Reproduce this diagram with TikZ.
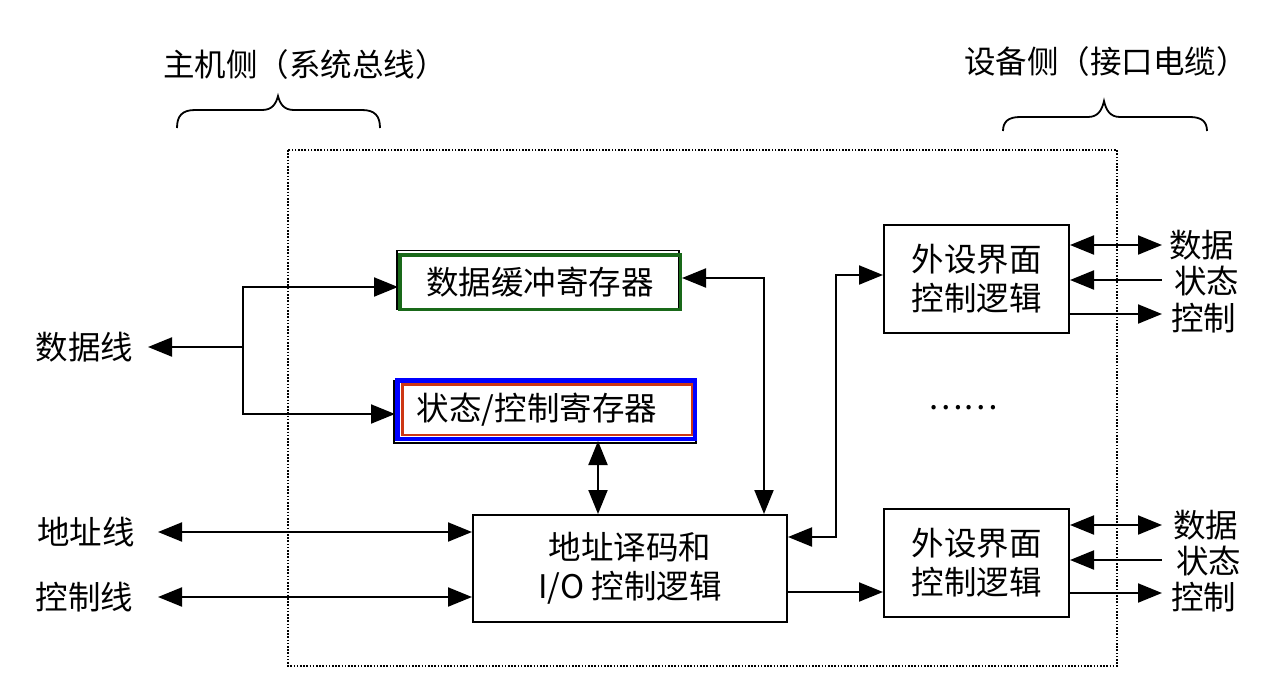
\documentclass[tikz,border=0pt]{standalone}
\usepackage{fontspec}
\setmainfont{Noto Sans CJK SC}
\usetikzlibrary{arrows.meta,calc}
\definecolor{bufgreen}{RGB}{25,105,25}
\definecolor{statblue}{RGB}{0,0,255}
\definecolor{statred}{RGB}{205,55,20}
\begin{document}
\begin{tikzpicture}[x=1pt,y=-1pt,
  font=\fontsize{32.5}{39}\selectfont,
  line width=2pt,
  >={Triangle[length=24pt,width=19pt]},
  box/.style={draw,line width=2pt,inner sep=0pt,align=center},
  lbl/.style={inner sep=0pt},
  brace/.style={line width=1.8pt},
  frame/.style={line width=1.6pt,dash pattern=on 1.6pt off 1.6pt}]
\useasboundingbox (0,0) rectangle (1286,689);

% dotted frame
\draw[frame] (288,150) rectangle (1117,666);

% top labels and braces
\node[lbl,font=\fontsize{31.5}{39}\selectfont] (host) at (305,65) {主机侧（系统总线）};
\node[lbl,font=\fontsize{31.5}{39}\selectfont] (dev) at (1106,62) {设备侧（接口电缆）};
\draw[brace] (177,128) .. controls (177,116) and (182,110) .. (195,110) -- (262,110)
  .. controls (272,110) and (276,104) .. (278,96)
  .. controls (280,104) and (284,110) .. (294,110) -- (362,110)
  .. controls (375,110) and (380,116) .. (380,128);
\draw[brace] (1003,131) .. controls (1003,122) and (1008,117) .. (1020,117) -- (1088,117)
  .. controls (1098,117) and (1102,110) .. (1104,101)
  .. controls (1106,110) and (1110,117) .. (1120,117) -- (1190,117)
  .. controls (1202,117) and (1207,122) .. (1207,131);

% registers
\draw[line width=1.6pt] (397,250.5) rectangle (679,309);
\node[draw=bufgreen,line width=3.5pt,inner sep=0pt,minimum width=280.5pt,minimum height=54.5pt]
  (buf) at (540,282) {数据缓冲寄存器};
\draw[line width=1.6pt] (394,381) rectangle (696,443);
\node[draw=statblue,line width=4.5pt,inner sep=0pt,minimum width=297.5pt,minimum height=58.5pt]
  (stat) at (546,409.5) {};
\draw[statred,line width=2.5pt] (402.25,384.25) rectangle (691.75,434.75);
\node[lbl] (stattext) at (537,410) {状态/控制寄存器};

% main blocks
\node[box,minimum width=314pt,minimum height=107pt] (dec) at (630,568.5) {地址译码和\\I/O 控制逻辑};
\node[box,minimum width=185pt,minimum height=108pt] (p1) at (976.5,279) {外设界面\\控制逻辑};
\node[box,minimum width=185pt,minimum height=108pt] (p2) at (976.5,562.5) {外设界面\\控制逻辑};
\node[lbl] (dots) at (963,408) {……};

% left side labels
\node[lbl,anchor=east] (dline) at (134,347) {数据线};
\node[lbl,anchor=east] (aline) at (136,532) {地址线};
\node[lbl,anchor=east] (cline) at (134,597) {控制线};

% left connectors
\coordinate (j) at (243,347);
\draw[->] (j) -- ([xshift=14pt]dline.east);
\draw[->] (j) |- ([yshift=-5pt]buf.west);
\draw[->] (j) |- ([yshift=-4.5pt]stat.west);
\draw[<->] ([xshift=22pt]aline.east) -- (dec.west |- aline.east);
\draw[<->] ([xshift=24pt]cline.east) -- (dec.west |- cline.east);

% internal connectors
\draw[<->] ([yshift=4pt]buf.east) -| ([xshift=134pt]dec.north);
\draw[<->] ([xshift=52pt]stat.south) -- ([xshift=-32pt]dec.north);
\draw[<->] ([yshift=31.5pt]dec.east) -- ++(48,0) |- ([yshift=4pt]p1.west);
\coordinate (d2) at ([yshift=-23.5pt]dec.east);
\draw[->] (d2) -- (p2.west |- d2);

% right side: peripheral 1
\node[lbl,anchor=west] (p1d) at (1168,245) {数据};
\node[lbl,anchor=west] (p1s) at (1173,281) {状态};
\node[lbl,anchor=west] (p1c) at (1170,318) {控制};
\draw[<->] ([yshift=34pt]p1.east) -- ([xshift=-6pt]p1d.west |- 0,245);
\draw[<-] ([yshift=-1pt]p1.east) -- ([xshift=-11pt]p1s.west |- 0,280);
\draw[->] ([yshift=-35pt]p1.east) -- ([xshift=-8pt]p1c.west |- 0,314);

% right side: peripheral 2
\node[lbl,anchor=west] (p2d) at (1172,525) {数据};
\node[lbl,anchor=west] (p2s) at (1175,561) {状态};
\node[lbl,anchor=west] (p2c) at (1170,597) {控制};
\draw[<->] ([yshift=37.5pt]p2.east) -- ([xshift=-10pt]p2d.west |- 0,525);
\draw[<-] ([yshift=2.5pt]p2.east) -- ([xshift=-13pt]p2s.west |- 0,560);
\draw[->] ([yshift=-30.5pt]p2.east) -- ([xshift=-8pt]p2c.west |- 0,593);
\end{tikzpicture}
\end{document}
